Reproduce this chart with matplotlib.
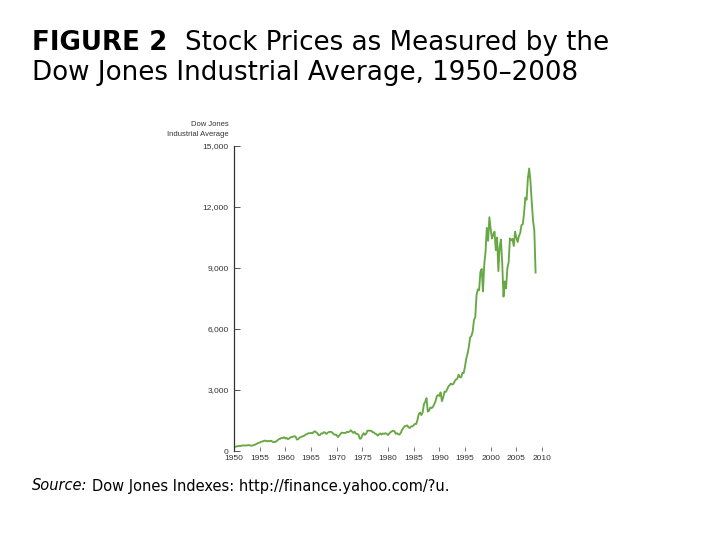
import matplotlib
matplotlib.use("Agg")
import matplotlib.pyplot as plt

# Quarterly DJIA levels (approximate), 1950-2008
years = list(range(1950, 2009))
quarterly_values = [
    [206, 209, 226, 235],       # 1950
    [248, 242, 271, 269],       # 1951
    [270, 274, 271, 291],       # 1952
    [280, 268, 264, 281],       # 1953
    [304, 334, 361, 404],       # 1954
    [409, 451, 467, 488],       # 1955
    [512, 493, 475, 500],       # 1956
    [475, 503, 456, 436],       # 1957
    [446, 478, 532, 584],       # 1958
    [602, 644, 632, 679],       # 1959
    [616, 641, 580, 616],       # 1960
    [676, 684, 701, 731],       # 1961
    [706, 561, 579, 652],       # 1962
    [683, 707, 733, 763],       # 1963
    [813, 832, 875, 874],       # 1964
    [889, 868, 931, 969],       # 1965
    [924, 870, 774, 785],       # 1966
    [865, 860, 926, 905],       # 1967
    [840, 898, 935, 943],       # 1968
    [935, 873, 813, 800],       # 1969
    [785, 683, 760, 838],       # 1970
    [904, 891, 887, 890],       # 1971
    [940, 929, 953, 1020],      # 1972
    [951, 891, 947, 850],       # 1973
    [846, 802, 607, 616],       # 1974
    [768, 878, 793, 852],       # 1975
    [999, 1002, 990, 1004],     # 1976
    [919, 916, 847, 831],       # 1977
    [757, 819, 865, 805],       # 1978
    [862, 841, 878, 838],       # 1979
    [785, 867, 932, 963],       # 1980
    [1003, 976, 849, 875],      # 1981
    [822, 811, 896, 1046],      # 1982
    [1130, 1221, 1233, 1258],   # 1983
    [1164, 1132, 1206, 1211],   # 1984
    [1266, 1335, 1328, 1546],   # 1985
    [1818, 1892, 1767, 1895],   # 1986
    [2304, 2418, 2596, 1938],   # 1987
    [1988, 2141, 2112, 2168],   # 1988
    [2293, 2440, 2692, 2753],   # 1989
    [2707, 2880, 2452, 2633],   # 1990
    [2913, 2906, 3016, 3168],   # 1991
    [3235, 3318, 3271, 3301],   # 1992
    [3435, 3516, 3555, 3754],   # 1993
    [3635, 3624, 3843, 3834],   # 1994
    [4157, 4556, 4789, 5117],   # 1995
    [5587, 5654, 5882, 6448],   # 1996
    [6583, 7673, 7945, 7908],   # 1997
    [8800, 8952, 7843, 9181],   # 1998
    [9786, 10971, 10337, 11497],# 1999
    [10922, 10448, 10651, 10787],# 2000
    [9879, 10502, 8848, 10022], # 2001
    [10404, 9243, 7592, 8342],  # 2002
    [7992, 8985, 9275, 10454],  # 2003
    [10358, 10435, 10080, 10783],# 2004
    [10504, 10275, 10569, 10718],# 2005
    [11109, 11150, 11679, 12463],# 2006
    [12354, 13409, 13896, 13265],# 2007
    [12263, 11350, 10851, 8776], # 2008
]
x_ticks = list(range(1950, 2011, 5))
y_ticks = [0, 3000, 6000, 9000, 12000, 15000]
y_tick_labels = ["0", "3,000", "6,000", "9,000", "12,000", "15,000"]

x = []
y = []
for yr, qs in zip(years, quarterly_values):
    for i, v in enumerate(qs):
        x.append(yr + i / 4)
        y.append(v)

fig = plt.figure(figsize=(7.2, 5.4), dpi=100)
ax = fig.add_axes([234/720, 1 - 451/540, (542 - 234)/720, (451 - 146)/540])
ax.plot(x, y, color="#67a844", lw=1.35)
ax.set_xlim(1950, 2010)
ax.set_ylim(0, 15000)
ax.set_xticks(x_ticks)
ax.set_xticklabels([str(t) for t in x_ticks], fontsize=6, family="Liberation Sans", color="#333333")
ax.set_yticks(y_ticks)
ax.set_yticklabels(y_tick_labels, fontsize=6, family="Liberation Sans", color="#333333")
for s in ["top", "right", "bottom"]:
    ax.spines[s].set_visible(False)
ax.spines["left"].set_color("#333333")
ax.spines["left"].set_linewidth(0.9)
ax.tick_params(axis="y", direction="in", length=4, width=0.7, color="#555555", pad=4)
ax.tick_params(axis="x", direction="in", length=3, width=0.7, color="#777777", pad=3)

fig.text(229/720, 1 - 125/540, "Dow Jones", ha="right", va="center", fontsize=5.5,
         family="Liberation Sans", color="#333333")
fig.text(229/720, 1 - 134/540, "Industrial Average", ha="right", va="center", fontsize=5.5,
         family="Liberation Sans", color="#333333")

renderer = fig.canvas.get_renderer()

tsize = 18.8
t_bold = fig.text(32/720, 1 - 43/540, "FIGURE 2", ha="left", va="center", fontsize=tsize,
                  fontweight="bold", family="DejaVu Sans")
bb = t_bold.get_window_extent(renderer)
fig.text(bb.x1 / 720 + 18/720, 1 - 43/540, "Stock Prices as Measured by the",
         ha="left", va="center", fontsize=tsize, family="DejaVu Sans")
fig.text(32/720, 1 - 73/540, "Dow Jones Industrial Average, 1950\u20132008",
         ha="left", va="center", fontsize=tsize, family="DejaVu Sans")

s1 = fig.text(32/720, 1 - 486/540, "Source:", ha="left", va="center", fontsize=10.5,
              family="DejaVu Sans", style="italic")
bb2 = s1.get_window_extent(renderer)
fig.text(bb2.x1 / 720 + 5/720, 1 - 486/540, "Dow Jones Indexes: http://finance.yahoo.com/?u.",
         ha="left", va="center", fontsize=10.5, family="DejaVu Sans")

fig.savefig("out.png", dpi=100)
